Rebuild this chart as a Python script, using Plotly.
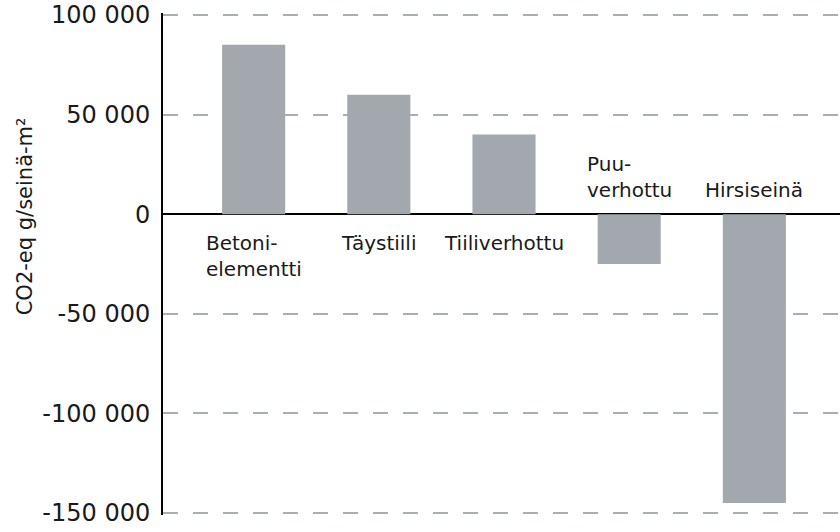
import plotly.graph_objects as go

# Wall structure types and their CO2-eq balance per wall square metre
categories = ["Betoni-<br>elementti", "Täystiili", "Tiiliverhottu", "Puu-<br>verhottu", "Hirsiseinä"]
values = [85000, 60000, 40000, -25000, -145000]

tick_values = [100000, 50000, 0, -50000, -100000, -150000]
tick_labels = ["100 000", "50 000", "0", "-50 000", "-100 000", "-150 000"]

y_title = "CO2-eq g/seinä-m²"

FONT = "DejaVu Sans"
TEXT_COLOR = "#1a1a1a"
BAR_COLOR = "#a2a8ae"
GRID_COLOR = "#a9aeb4"

W, H = 840, 532
M_L, M_R, M_T, M_B = 163, 0, 12.5, 17

x_pos = list(range(len(categories)))

fig = go.Figure(
    go.Bar(
        x=x_pos,
        y=values,
        marker=dict(color=BAR_COLOR, line=dict(width=0)),
        width=0.504,
        hoverinfo="skip",
    )
)

# Category names sit next to the zero line, on the opposite side from the bar
for xi, name, v in zip(x_pos, categories, values):
    below = v >= 0
    fig.add_annotation(
        x=xi,
        y=0,
        xref="x",
        yref="y",
        text=name,
        showarrow=False,
        align="left",
        xanchor="center",
        yanchor="top" if below else "bottom",
        yshift=-15 if below else 10,
        font=dict(family=FONT, size=20, color=TEXT_COLOR),
    )

# Rotated y-axis title placed by pixel position
title_x_px, title_y_px = 11, 216
fig.add_annotation(
    x=(title_x_px - M_L) / (W - M_L - M_R),
    y=(H - M_B - title_y_px) / (H - M_T - M_B),
    xref="paper",
    yref="paper",
    text=y_title,
    showarrow=False,
    textangle=-90,
    font=dict(family=FONT, size=21, color=TEXT_COLOR),
)

fig.update_layout(
    width=W,
    height=H,
    margin=dict(l=M_L, r=M_R, t=M_T, b=M_B, pad=0),
    paper_bgcolor="white",
    plot_bgcolor="white",
    showlegend=False,
    font=dict(family=FONT, color=TEXT_COLOR),
    xaxis=dict(
        range=[-0.724, 4.684],
        showticklabels=False,
        showgrid=False,
        zeroline=False,
        showline=False,
        ticks="",
        fixedrange=True,
    ),
    yaxis=dict(
        range=[-151000, 101000],
        tickvals=tick_values,
        ticktext=tick_labels,
        tickfont=dict(family=FONT, size=24, color=TEXT_COLOR),
        ticks="",
        ticklabelstandoff=6,
        showgrid=True,
        gridcolor=GRID_COLOR,
        gridwidth=2,
        griddash="15px,15px",
        zeroline=True,
        zerolinecolor="black",
        zerolinewidth=2,
        showline=True,
        linecolor="black",
        linewidth=2,
        fixedrange=True,
    ),
)

fig.write_html("out.html")
